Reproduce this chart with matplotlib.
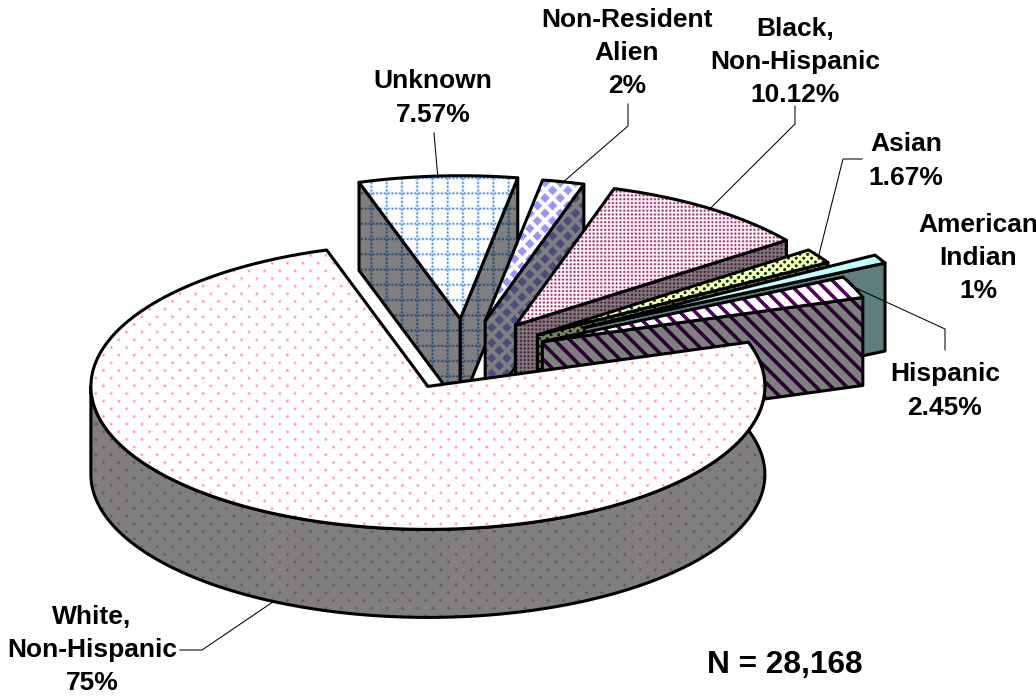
import numpy as np
import matplotlib
matplotlib.use('Agg')
import matplotlib.pyplot as plt
from matplotlib.patches import Polygon

# Data, in drawing order clockwise from the white slice
categories = ['White,\nNon-Hispanic', 'Unknown', 'Non-Resident\nAlien', 'Black,\nNon-Hispanic',
              'Asian', 'American\nIndian', 'Hispanic']
value_labels = ['75%', '7.57%', '2%', '10.12%', '1.67%', '1%', '2.45%']
values = [75, 7.57, 2, 10.12, 1.67, 1, 2.45]
explode = [0.247, 0.254, 0.245, 0.254, 0.254, 0.40, 0.245]
note = 'N = 28,168'

W, H = 1036, 697

# Pie geometry in pixels
CX, CY = 466, 355
RX, RY = 337, 143
DEPTH = 88
START = 72

# Label centres and leader elbows
label_pos = [(92, 650), (433, 98), (627, 53), (795, 62), (906, 161), (978, 258), (945, 391)]
elbows = [[(180, 650), (202, 650)], [(434, 133)], [(628, 104), (628, 126)], [(795, 106), (795, 124)],
          [(862, 159), (843, 159)], None, [(945, 350), (945, 329)]]

yy, xx = np.mgrid[0:H, 0:W] + 0.5


def lattice(px, x0, y0):
    # distance to the nearest point of a staggered lattice
    a = (xx - x0 + px / 2) % px - px / 2
    b = (yy - y0 + px / 2) % px - px / 2
    c = (xx - x0) % px - px / 2
    d = (yy - y0) % px - px / 2
    return np.minimum(a**2 + b**2, c**2 + d**2), np.minimum(np.abs(a) + np.abs(b), np.abs(c) + np.abs(d))


def mix(bg, fg, amount):
    bg = np.array(bg) / 255
    fg = np.array(fg) / 255
    return bg + (fg - bg) * amount[..., None]


def tex_white():
    d2, _ = lattice(15.33, 310.5, 301.5)
    return mix((255, 255, 255), (255, 130, 130), np.exp(-d2 / 1.6))


def tex_unknown():
    dx = (xx - 447.7 + 7.6) % 15.25 - 7.6
    dy = (yy - 193.3 + 7.6) % 15.25 - 7.6
    vert = np.exp(-(dx / 1.1)**2) * (0.55 + 0.45 * np.cos(2 * np.pi * yy / 3.81))
    horz = np.exp(-(dy / 1.1)**2) * (0.55 + 0.45 * np.cos(2 * np.pi * xx / 3.81))
    return mix((255, 255, 255), (50, 135, 230), np.maximum(vert, horz))


def tex_nonres():
    _, l1 = lattice(15.25, 545, 198)
    return mix((255, 255, 255), (150, 150, 255), np.clip((5.6 - l1) / 1.6, 0, 1))


def tex_black():
    a = ((1 + np.cos(2 * np.pi * xx / 3.83)) / 2) * ((1 + np.cos(2 * np.pi * yy / 3.83)) / 2)
    return mix((255, 250, 252), (150, 30, 95), a**0.9)


def tex_asian():
    d2, _ = lattice(7.66, 800, 262)
    return mix((255, 255, 190), (0, 70, 0), np.clip(1.6 - d2 / 2.2, 0, 1))


def tex_indian():
    return mix((190, 255, 255), (190, 255, 255), np.zeros((H, W)))


def tex_hispanic():
    a = np.cos(2 * np.pi * (xx - yy) / 15.33)
    return mix((255, 255, 255), (85, 0, 100), np.clip((a - 0.3) * 2.5, 0, 1))


textures = [tex_white, tex_unknown, tex_nonres, tex_black, tex_asian, tex_indian, tex_hispanic]

fig = plt.figure(figsize=(W / 100, H / 100), dpi=100)
ax = fig.add_axes([0, 0, 1, 1])

z = [1]


def face(points, tex):
    # textured polygon with a thick black outline
    im = ax.imshow(tex, extent=(0, W, H, 0), interpolation='nearest', aspect='auto', zorder=z[0])
    clip = Polygon(points, closed=True, transform=ax.transData, facecolor='none', edgecolor='none')
    im.set_clip_path(clip)
    ax.add_patch(Polygon(points, closed=True, facecolor='none', edgecolor='black', linewidth=2.2,
                         joinstyle='round', zorder=z[0] + 1))
    z[0] += 2


shares = np.array(values) / np.sum(values) * 360
edges = START + np.concatenate([[0], np.cumsum(shares)])
mids = np.radians((edges[:-1] + edges[1:]) / 2)
apexes = [(CX + e * RX * np.sin(m), CY - e * RY * np.cos(m)) for e, m in zip(explode, mids)]


def rim(apex, deg):
    t = np.radians(deg)
    return np.array([apex[0] + RX * np.sin(t), apex[1] - RY * np.cos(t)])


def radial_face(apex, deg, tex):
    a = np.array(apex)
    b = rim(apex, deg)
    down = np.array([0, DEPTH])
    face([a, b, b + down, a + down], tex)


# back slices first, the big one last so it sits in front
for i in [1, 2, 3, 4, 5, 6, 0]:
    tex = textures[i]()
    side = tex * 0.5
    t0, t1 = edges[i], edges[i + 1]
    apex = apexes[i]
    if i == 1:
        radial_face(apex, t0, side)
    if i != 0:
        radial_face(apex, t1, side)
    else:
        arc = np.array([rim(apex, d) for d in np.linspace(t0, 270, 200)])
        wall = np.vstack([arc, (arc + [0, DEPTH])[::-1]])
        face(wall, side)
    top = [np.array(apex)] + [rim(apex, d) for d in np.linspace(t0, t1, 120)]
    face(top, tex)

# leader lines, running to the middle of each slice's rim
for i, pts in enumerate(elbows):
    if pts is None:
        continue
    end = rim(apexes[i], np.degrees(mids[i]))
    if i == 0:
        end = end + [0, DEPTH]
    path = np.array(pts + [tuple(end)])
    ax.plot(path[:, 0], path[:, 1], color='black', linewidth=0.75, zorder=z[0])

# labels
for name, val, pos in zip(categories, value_labels, label_pos):
    ax.text(pos[0], pos[1], name + '\n' + val, ha='center', va='center', family='Liberation Sans',
            fontweight='bold', fontsize=19, linespacing=1.48, color='black', zorder=z[0] + 1)
ax.text(785, 665, note, ha='center', va='center', family='Liberation Sans', fontweight='bold',
        fontsize=22.8, color='black', zorder=z[0] + 1)

ax.set_xlim(0, W)
ax.set_ylim(H, 0)
ax.axis('off')
fig.savefig('out.png', dpi=100, facecolor='white')
